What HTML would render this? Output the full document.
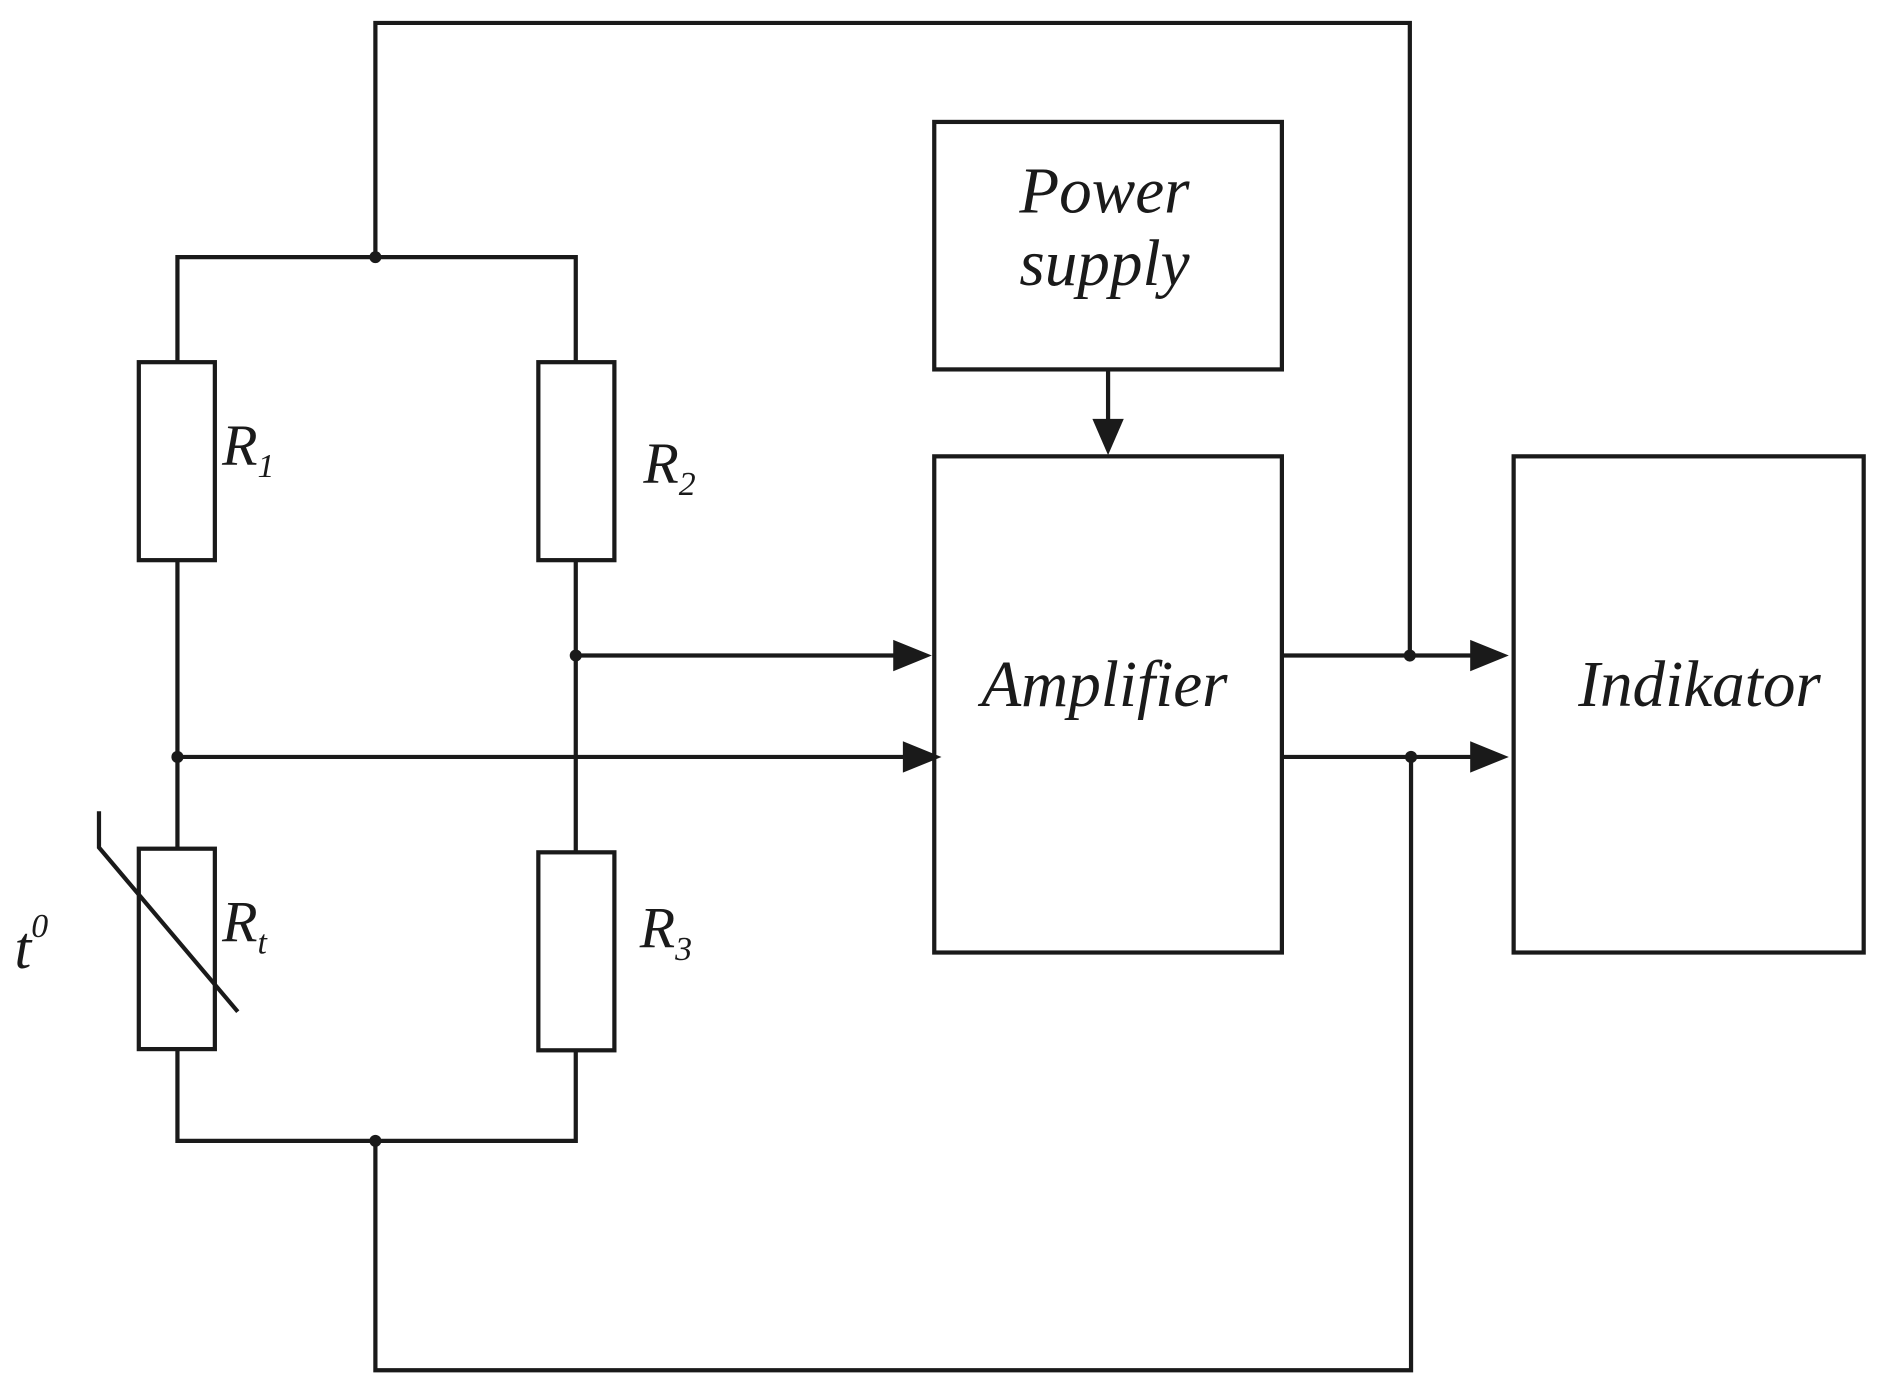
<!DOCTYPE html>
<html><head><meta charset="utf-8"><style>
html,body{margin:0;padding:0;background:#fff;}
svg{display:block;}
text{font-family:"Liberation Serif",serif;font-style:italic;fill:#1a1a1a;}
</style></head><body>
<svg width="1883" height="1398" viewBox="0 0 1560 1158" preserveAspectRatio="none" xmlns="http://www.w3.org/2000/svg">
<g stroke="#1a1a1a" stroke-width="3.5" fill="none">
<polyline points="311,213 311,19 1168,19 1168,543"/>
<polyline points="147,300 147,213 477,213 477,300"/>
<rect x="115" y="300" width="63" height="164"/>
<rect x="446" y="300" width="63" height="164"/>
<line x1="147" y1="464" x2="147" y2="703"/>
<line x1="477" y1="464" x2="477" y2="706"/>
<rect x="115" y="703" width="63" height="166"/>
<rect x="446" y="706" width="63" height="164"/>
<polyline points="82,672 82,702 197,838"/>
<polyline points="147,869 147,945 477,945 477,870"/>
<polyline points="311,945 311,1135 1169,1135 1169,627"/>
<line x1="477" y1="543" x2="745" y2="543"/>
<line x1="147" y1="627" x2="752" y2="627"/>
<rect x="774" y="101" width="288" height="205"/>
<rect x="774" y="378" width="288" height="411"/>
<rect x="1254" y="378" width="290" height="411"/>
<line x1="918" y1="306" x2="918" y2="350"/>
<line x1="1062" y1="543" x2="1222" y2="543"/>
<line x1="1062" y1="627" x2="1222" y2="627"/>
</g>
<g fill="#1a1a1a">
<polygon points="772,543 740,530 740,556"/>
<polygon points="780,627 748,614 748,640"/>
<polygon points="918,377 905,347 931,347"/>
<polygon points="1250,543 1218,530 1218,556"/>
<polygon points="1250,627 1218,614 1218,640"/>
<circle cx="311" cy="213" r="5"/>
<circle cx="477" cy="543" r="5"/>
<circle cx="147" cy="627" r="5"/>
<circle cx="311" cy="945" r="5"/>
<circle cx="1168" cy="543" r="5"/>
<circle cx="1169" cy="627" r="5"/>
</g>
<text x="915" y="176" font-size="54" text-anchor="middle">Power</text>
<text x="915" y="236" font-size="54" text-anchor="middle">supply</text>
<text x="915" y="585" font-size="54" text-anchor="middle">Amplifier</text>
<text x="1408" y="585" font-size="54" text-anchor="middle">Indikator</text>
<text x="184" y="385" font-size="48">R<tspan font-size="28" dy="10">1</tspan></text>
<text x="533" y="400" font-size="48">R<tspan font-size="28" dy="10">2</tspan></text>
<text x="184" y="780" font-size="48">R<tspan font-size="28" dy="10">t</tspan></text>
<text x="530" y="785" font-size="48">R<tspan font-size="28" dy="10">3</tspan></text>
<text x="12" y="802" font-size="50">t<tspan font-size="28" dy="-26">0</tspan></text>
</svg>
</body></html>
